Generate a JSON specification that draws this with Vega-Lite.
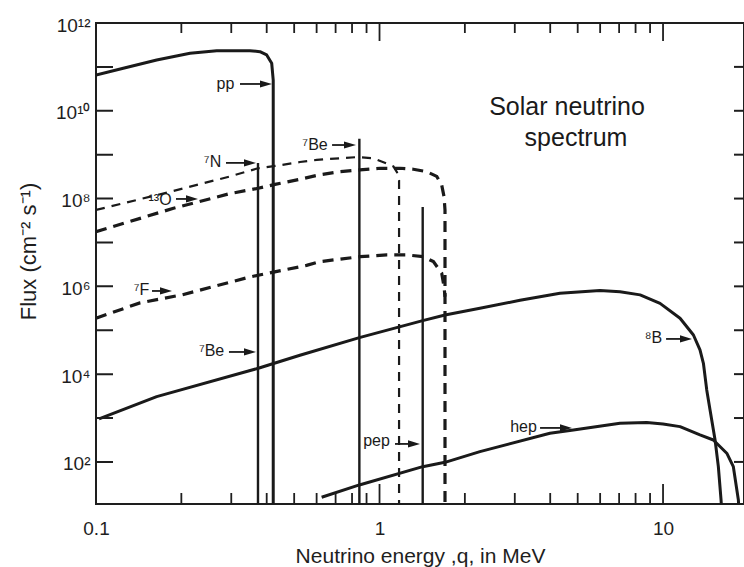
{
  "$schema": "https://vega.github.io/schema/vega-lite/v6.json",
  "width": 648,
  "height": 481,
  "autosize": {"type": "none"},
  "padding": {"left": 96, "top": 23, "right": 0, "bottom": 63},
  "background": "white",
  "config": {
    "view": {"stroke": "#1e1e1e", "strokeWidth": 2},
    "font": "Liberation Sans",
    "axis": {"domain": false, "ticks": false, "grid": false, "labelColor": "#1e1e1e", "titleColor": "#1e1e1e", "labelFont": "Liberation Sans", "titleFont": "Liberation Sans", "labelFontSize": 19, "titleFontSize": 20, "titleFontWeight": "normal", "labelOverlap": false, "labelFlush": false}
  },
  "datasets": {
    "curves": [
      {"s": "pp", "i": 0, "E": 0.1, "F": 6.5e10},
      {"s": "pp", "i": 1, "E": 0.1248, "F": 9.3e10},
      {"s": "pp", "i": 2, "E": 0.1637, "F": 1.44e11},
      {"s": "pp", "i": 3, "E": 0.2146, "F": 2.04e11},
      {"s": "pp", "i": 4, "E": 0.2666, "F": 2.34e11},
      {"s": "pp", "i": 5, "E": 0.349, "F": 2.34e11},
      {"s": "pp", "i": 6, "E": 0.3786, "F": 2.22e11},
      {"s": "pp", "i": 7, "E": 0.4, "F": 1.87e11},
      {"s": "pp", "i": 8, "E": 0.4166, "F": 1.21e11},
      {"s": "pp", "i": 9, "E": 0.4218, "F": 5.0e10},
      {"s": "pp", "i": 10, "E": 0.4218, "F": 9},
      {"s": "B8", "i": 0, "E": 0.1025, "F": 955},
      {"s": "B8", "i": 1, "E": 0.1637, "F": 3070},
      {"s": "B8", "i": 2, "E": 0.3736, "F": 13600},
      {"s": "B8", "i": 3, "E": 0.524, "F": 27000},
      {"s": "B8", "i": 4, "E": 0.849, "F": 68000},
      {"s": "B8", "i": 5, "E": 1.42, "F": 166000},
      {"s": "B8", "i": 6, "E": 1.702, "F": 223000},
      {"s": "B8", "i": 7, "E": 2.26, "F": 317000},
      {"s": "B8", "i": 8, "E": 3.13, "F": 480000},
      {"s": "B8", "i": 9, "E": 4.33, "F": 700000},
      {"s": "B8", "i": 10, "E": 5.99, "F": 800000},
      {"s": "B8", "i": 11, "E": 7.05, "F": 757000},
      {"s": "B8", "i": 12, "E": 8.3, "F": 640000},
      {"s": "B8", "i": 13, "E": 9.76, "F": 410000},
      {"s": "B8", "i": 14, "E": 11.48, "F": 188000},
      {"s": "B8", "i": 15, "E": 12.8, "F": 78000},
      {"s": "B8", "i": 16, "E": 13.5, "F": 35600},
      {"s": "B8", "i": 17, "E": 13.88, "F": 17700},
      {"s": "B8", "i": 18, "E": 14.26, "F": 4370},
      {"s": "B8", "i": 19, "E": 14.65, "F": 1530},
      {"s": "B8", "i": 20, "E": 15.26, "F": 316},
      {"s": "B8", "i": 21, "E": 15.67, "F": 78},
      {"s": "B8", "i": 22, "E": 16.02, "F": 13.5},
      {"s": "B8", "i": 23, "E": 16.08, "F": 9},
      {"s": "hep", "i": 0, "E": 0.625, "F": 15.7},
      {"s": "hep", "i": 1, "E": 0.849, "F": 29.9},
      {"s": "hep", "i": 2, "E": 1.42, "F": 78},
      {"s": "hep", "i": 3, "E": 1.702, "F": 98},
      {"s": "hep", "i": 4, "E": 2.26, "F": 172},
      {"s": "hep", "i": 5, "E": 3.99, "F": 451},
      {"s": "hep", "i": 6, "E": 4.83, "F": 536},
      {"s": "hep", "i": 7, "E": 7.05, "F": 760},
      {"s": "hep", "i": 8, "E": 8.76, "F": 790},
      {"s": "hep", "i": 9, "E": 10.0, "F": 735},
      {"s": "hep", "i": 10, "E": 11.48, "F": 637},
      {"s": "hep", "i": 11, "E": 13.5, "F": 412},
      {"s": "hep", "i": 12, "E": 15.05, "F": 316},
      {"s": "hep", "i": 13, "E": 16.78, "F": 158},
      {"s": "hep", "i": 14, "E": 17.7, "F": 78},
      {"s": "hep", "i": 15, "E": 18.44, "F": 13.5},
      {"s": "hep", "i": 16, "E": 18.5, "F": 9},
      {"s": "N13", "i": 0, "E": 0.1, "F": 5.5e7},
      {"s": "N13", "i": 1, "E": 0.187, "F": 1.48e8},
      {"s": "N13", "i": 2, "E": 0.297, "F": 3.2e8},
      {"s": "N13", "i": 3, "E": 0.373, "F": 4.9e8},
      {"s": "N13", "i": 4, "E": 0.434, "F": 5.6e8},
      {"s": "N13", "i": 5, "E": 0.524, "F": 6.8e8},
      {"s": "N13", "i": 6, "E": 0.6005, "F": 7.6e8},
      {"s": "N13", "i": 7, "E": 0.7256, "F": 8.3e8},
      {"s": "N13", "i": 8, "E": 0.831, "F": 8.8e8},
      {"s": "N13", "i": 9, "E": 0.951, "F": 8.3e8},
      {"s": "N13", "i": 10, "E": 1.06, "F": 6.3e8},
      {"s": "N13", "i": 11, "E": 1.119, "F": 5.4e8},
      {"s": "N13", "i": 12, "E": 1.152, "F": 4.0e8},
      {"s": "N13", "i": 13, "E": 1.172, "F": 2.6e8},
      {"s": "N13", "i": 14, "E": 1.172, "F": 9},
      {"s": "O15", "i": 0, "E": 0.1, "F": 1.76e7},
      {"s": "O15", "i": 1, "E": 0.1876, "F": 6.0e7},
      {"s": "O15", "i": 2, "E": 0.297, "F": 1.3e8},
      {"s": "O15", "i": 3, "E": 0.3736, "F": 1.72e8},
      {"s": "O15", "i": 4, "E": 0.428, "F": 2.1e8},
      {"s": "O15", "i": 5, "E": 0.524, "F": 2.75e8},
      {"s": "O15", "i": 6, "E": 0.617, "F": 3.5e8},
      {"s": "O15", "i": 7, "E": 0.7256, "F": 4.1e8},
      {"s": "O15", "i": 8, "E": 0.853, "F": 4.5e8},
      {"s": "O15", "i": 9, "E": 1.004, "F": 4.9e8},
      {"s": "O15", "i": 10, "E": 1.181, "F": 4.9e8},
      {"s": "O15", "i": 11, "E": 1.316, "F": 4.65e8},
      {"s": "O15", "i": 12, "E": 1.467, "F": 4.1e8},
      {"s": "O15", "i": 13, "E": 1.592, "F": 3.2e8},
      {"s": "O15", "i": 14, "E": 1.657, "F": 2.04e8},
      {"s": "O15", "i": 15, "E": 1.689, "F": 1.1e8},
      {"s": "O15", "i": 16, "E": 1.702, "F": 5.5e7},
      {"s": "O15", "i": 17, "E": 1.702, "F": 9},
      {"s": "F17", "i": 0, "E": 0.1, "F": 1.88e5},
      {"s": "F17", "i": 1, "E": 0.1429, "F": 4.2e5},
      {"s": "F17", "i": 2, "E": 0.201, "F": 6.4e5},
      {"s": "F17", "i": 3, "E": 0.3493, "F": 1.64e6},
      {"s": "F17", "i": 4, "E": 0.553, "F": 3.0e6},
      {"s": "F17", "i": 5, "E": 0.617, "F": 3.66e6},
      {"s": "F17", "i": 6, "E": 0.853, "F": 4.75e6},
      {"s": "F17", "i": 7, "E": 1.06, "F": 5.2e6},
      {"s": "F17", "i": 8, "E": 1.247, "F": 5.2e6},
      {"s": "F17", "i": 9, "E": 1.427, "F": 4.75e6},
      {"s": "F17", "i": 10, "E": 1.549, "F": 3.66e6},
      {"s": "F17", "i": 11, "E": 1.657, "F": 1.99e6},
      {"s": "F17", "i": 12, "E": 1.689, "F": 9.8e5},
      {"s": "F17", "i": 13, "E": 1.702, "F": 5.8e5}
    ],
    "vlines": [
      {"E": 0.3727, "top": 6.5e8},
      {"E": 0.849, "top": 2.3e9},
      {"E": 1.42, "top": 6.4e7}
    ],
    "arrows": [
      {"E1": 0.322, "E2": 0.3977, "F": 4.08e10},
      {"E1": 0.6802, "E2": 0.7869, "F": 1.66e9},
      {"E1": 0.2874, "E2": 0.3493, "F": 6.5e8},
      {"E1": 0.1915, "E2": 0.2181, "F": 9.8e7},
      {"E1": 0.1576, "E2": 0.1766, "F": 7.85e5},
      {"E1": 0.2944, "E2": 0.3493, "F": 3.2e4},
      {"E1": 1.134, "E2": 1.3235, "F": 257},
      {"E1": 3.683, "E2": 4.547, "F": 595},
      {"E1": 10.25, "E2": 12.05, "F": 6.34e4}
    ],
    "labels": [
      {"t": "pp", "E": 0.2862, "F": 4.08e10},
      {"t": "⁷Be", "E": 0.5923, "F": 1.66e9},
      {"t": "⁷N", "E": 0.2576, "F": 6.8e8},
      {"t": "¹³O", "E": 0.1682, "F": 9.3e7},
      {"t": "⁷F", "E": 0.1447, "F": 8.3e5},
      {"t": "⁷Be", "E": 0.2556, "F": 3.4e4},
      {"t": "pep", "E": 0.9759, "F": 300},
      {"t": "hep", "E": 3.221, "F": 627},
      {"t": "⁸B", "E": 9.259, "F": 6.7e4}
    ],
    "titles": [
      {"t": "Solar neutrino", "E": 4.585, "F": 1.22e10},
      {"t": "spectrum", "E": 4.932, "F": 2.4e9}
    ],
    "xminor": [
      {"E": 0.2}, {"E": 0.3}, {"E": 0.4}, {"E": 0.5}, {"E": 0.6}, {"E": 0.7}, {"E": 0.8}, {"E": 0.9},
      {"E": 2}, {"E": 3}, {"E": 4}, {"E": 5}, {"E": 6}, {"E": 7}, {"E": 8}, {"E": 9}
    ],
    "xmajor": [{"E": 1}, {"E": 10}],
    "ydec": [
      {"F": 100}, {"F": 1000}, {"F": 10000}, {"F": 100000}, {"F": 1000000}, {"F": 10000000},
      {"F": 100000000}, {"F": 1000000000}, {"F": 10000000000}, {"F": 100000000000}
    ]
  },
  "layer": [
    {
      "data": {"name": "curves"},
      "transform": [{"filter": {"field": "s", "oneOf": ["pp", "B8", "hep"]}}],
      "mark": {"type": "line", "clip": true, "color": "#1a1a1a", "strokeWidth": 3, "strokeJoin": "round"},
      "encoding": {
        "x": {"field": "E", "type": "quantitative", "scale": {"type": "log", "domain": [0.1, 19.3], "nice": false},
          "axis": {"orient": "bottom", "values": [0.1, 1, 10],
            "labelExpr": "datum.value == 0.1 ? '0.1' : datum.value == 1 ? '1' : datum.value == 10 ? '10' : ''",
            "labelPadding": 15, "title": "Neutrino energy ,q, in MeV", "titleFontSize": 21, "titleBaseline": "middle", "titleY": 52}},
        "y": {"field": "F", "type": "quantitative", "scale": {"type": "log", "domain": [11, 1e12], "nice": false},
          "axis": {"orient": "left", "values": [100, 10000, 1000000, 100000000, 10000000000, 1000000000000],
            "labelExpr": "['','','10²','','10⁴','','10⁶','','10⁸','','10¹⁰','','10¹²'][round(log(datum.value)/LN10)]",
            "labelPadding": 6, "labelOffset": 2,
            "title": "Flux (cm⁻² s⁻¹)", "titleX": -68, "titleY": 228, "titleBaseline": "middle", "titleFontSize": 22}},
        "detail": {"field": "s"},
        "order": {"field": "i", "type": "quantitative"}
      }
    },
    {
      "data": {"name": "vlines"},
      "mark": {"type": "rule", "color": "#1a1a1a", "strokeWidth": 2.4},
      "encoding": {
        "x": {"field": "E", "type": "quantitative", "scale": {"type": "log", "domain": [0.1, 19.3], "nice": false}, "axis": null},
        "y": {"field": "top", "type": "quantitative", "scale": {"type": "log", "domain": [11, 1e12], "nice": false}, "axis": null},
        "y2": {"datum": 11}
      }
    },
    {
      "data": {"name": "curves"},
      "transform": [{"filter": {"field": "s", "equal": "N13"}}],
      "mark": {"type": "line", "clip": true, "color": "#1a1a1a", "strokeWidth": 2.2, "strokeDash": [9, 7]},
      "encoding": {
        "x": {"field": "E", "type": "quantitative", "scale": {"type": "log", "domain": [0.1, 19.3], "nice": false}, "axis": null},
        "y": {"field": "F", "type": "quantitative", "scale": {"type": "log", "domain": [11, 1e12], "nice": false}, "axis": null},
        "detail": {"field": "s"},
        "order": {"field": "i", "type": "quantitative"}
      }
    },
    {
      "data": {"name": "curves"},
      "transform": [{"filter": {"field": "s", "oneOf": ["O15", "F17"]}}],
      "mark": {"type": "line", "clip": true, "color": "#1a1a1a", "strokeWidth": 3.2, "strokeDash": [11, 7]},
      "encoding": {
        "x": {"field": "E", "type": "quantitative", "scale": {"type": "log", "domain": [0.1, 19.3], "nice": false}, "axis": null},
        "y": {"field": "F", "type": "quantitative", "scale": {"type": "log", "domain": [11, 1e12], "nice": false}, "axis": null},
        "detail": {"field": "s"},
        "order": {"field": "i", "type": "quantitative"}
      }
    },
    {
      "data": {"name": "xminor"},
      "mark": {"type": "tick", "orient": "vertical", "clip": true, "color": "#1e1e1e", "opacity": 1, "thickness": 1.8},
      "encoding": {
        "x": {"field": "E", "type": "quantitative", "scale": {"type": "log", "domain": [0.1, 19.3], "nice": false}, "axis": null},
        "y": {"datum": 11, "type": "quantitative", "scale": {"type": "log", "domain": [11, 1e12], "nice": false}, "axis": null},
        "size": {"value": 22}
      }
    },
    {
      "data": {"name": "xminor"},
      "mark": {"type": "tick", "orient": "vertical", "clip": true, "color": "#1e1e1e", "opacity": 1, "thickness": 1.8},
      "encoding": {
        "x": {"field": "E", "type": "quantitative", "scale": {"type": "log", "domain": [0.1, 19.3], "nice": false}, "axis": null},
        "y": {"datum": 1e12, "type": "quantitative", "scale": {"type": "log", "domain": [11, 1e12], "nice": false}, "axis": null},
        "size": {"value": 20}
      }
    },
    {
      "data": {"name": "xmajor"},
      "mark": {"type": "tick", "orient": "vertical", "clip": true, "color": "#1e1e1e", "opacity": 1, "thickness": 1.8},
      "encoding": {
        "x": {"field": "E", "type": "quantitative", "scale": {"type": "log", "domain": [0.1, 19.3], "nice": false}, "axis": null},
        "y": {"datum": 11, "type": "quantitative", "scale": {"type": "log", "domain": [11, 1e12], "nice": false}, "axis": null},
        "size": {"value": 40}
      }
    },
    {
      "data": {"name": "xmajor"},
      "mark": {"type": "tick", "orient": "vertical", "clip": true, "color": "#1e1e1e", "opacity": 1, "thickness": 1.8},
      "encoding": {
        "x": {"field": "E", "type": "quantitative", "scale": {"type": "log", "domain": [0.1, 19.3], "nice": false}, "axis": null},
        "y": {"datum": 1e12, "type": "quantitative", "scale": {"type": "log", "domain": [11, 1e12], "nice": false}, "axis": null},
        "size": {"value": 36}
      }
    },
    {
      "data": {"name": "ydec"},
      "mark": {"type": "tick", "orient": "horizontal", "clip": true, "color": "#1e1e1e", "opacity": 1, "thickness": 2},
      "encoding": {
        "x": {"datum": 0.1, "type": "quantitative", "scale": {"type": "log", "domain": [0.1, 19.3], "nice": false}, "axis": null},
        "y": {"field": "F", "type": "quantitative", "scale": {"type": "log", "domain": [11, 1e12], "nice": false}, "axis": null},
        "size": {"value": 34}
      }
    },
    {
      "data": {"name": "ydec"},
      "mark": {"type": "tick", "orient": "horizontal", "clip": true, "color": "#1e1e1e", "opacity": 1, "thickness": 2},
      "encoding": {
        "x": {"datum": 19.3, "type": "quantitative", "scale": {"type": "log", "domain": [0.1, 19.3], "nice": false}, "axis": null},
        "y": {"field": "F", "type": "quantitative", "scale": {"type": "log", "domain": [11, 1e12], "nice": false}, "axis": null},
        "size": {"value": 20}
      }
    },
    {
      "data": {"name": "arrows"},
      "mark": {"type": "rule", "color": "#1a1a1a", "strokeWidth": 1.8},
      "encoding": {
        "x": {"field": "E1", "type": "quantitative", "scale": {"type": "log", "domain": [0.1, 19.3], "nice": false}, "axis": null},
        "x2": {"field": "E2"},
        "y": {"field": "F", "type": "quantitative", "scale": {"type": "log", "domain": [11, 1e12], "nice": false}, "axis": null}
      }
    },
    {
      "data": {"name": "arrows"},
      "mark": {"type": "point", "shape": "M-1,-0.6L1,0L-1,0.6Z", "size": 144, "filled": true, "color": "#1a1a1a", "opacity": 1, "strokeWidth": 0},
      "encoding": {
        "x": {"field": "E2", "type": "quantitative", "scale": {"type": "log", "domain": [0.1, 19.3], "nice": false}, "axis": null},
        "y": {"field": "F", "type": "quantitative", "scale": {"type": "log", "domain": [11, 1e12], "nice": false}, "axis": null}
      }
    },
    {
      "data": {"name": "labels"},
      "mark": {"type": "text", "font": "Liberation Sans", "fontSize": 16, "align": "center", "baseline": "middle", "color": "#1a1a1a"},
      "encoding": {
        "x": {"field": "E", "type": "quantitative", "scale": {"type": "log", "domain": [0.1, 19.3], "nice": false}, "axis": null},
        "y": {"field": "F", "type": "quantitative", "scale": {"type": "log", "domain": [11, 1e12], "nice": false}, "axis": null},
        "text": {"field": "t"}
      }
    },
    {
      "data": {"name": "titles"},
      "mark": {"type": "text", "font": "Liberation Sans", "fontSize": 25, "align": "center", "baseline": "middle", "color": "#1a1a1a"},
      "encoding": {
        "x": {"field": "E", "type": "quantitative", "scale": {"type": "log", "domain": [0.1, 19.3], "nice": false}, "axis": null},
        "y": {"field": "F", "type": "quantitative", "scale": {"type": "log", "domain": [11, 1e12], "nice": false}, "axis": null},
        "text": {"field": "t"}
      }
    }
  ],
  "resolve": {"axis": {"x": "independent", "y": "independent"}}
}
